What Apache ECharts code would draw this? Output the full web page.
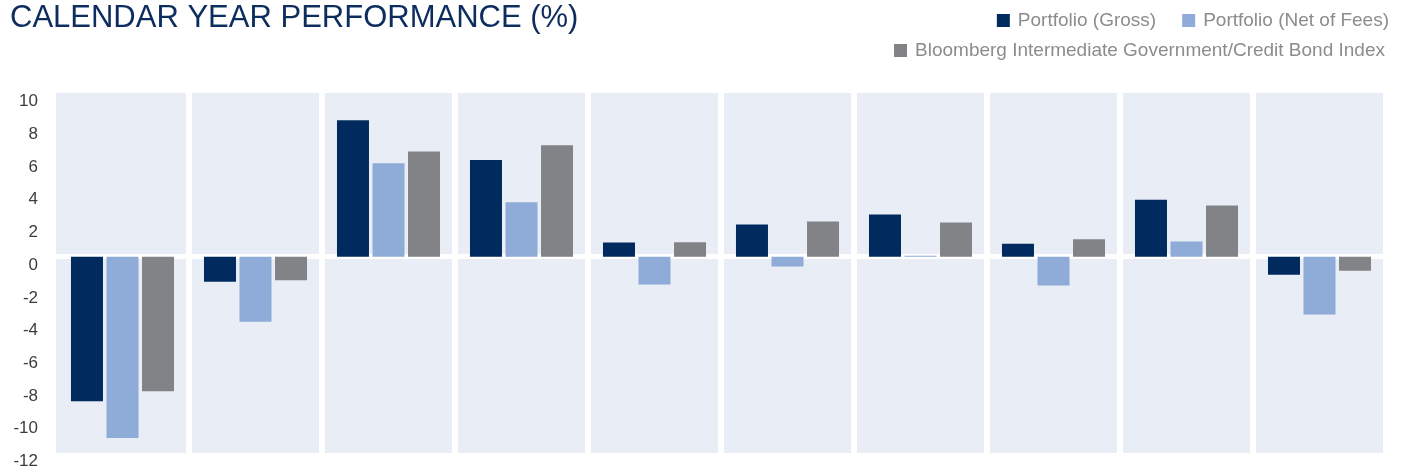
<!DOCTYPE html>
<html>
<head>
<meta charset="utf-8">
<script src="https://cdn.jsdelivr.net/npm/echarts@6/dist/echarts.min.js"></script>
<style>
    html, body {margin: 0; padding: 0; background: #ffffff;}
    #main {width: 1406px; height: 472px;}
</style>
</head>
<body>
<div id="main"></div>
<script>
// calendar years, newest first (axis labels are not shown in the picture)
const years = ['2022', '2021', '2020', '2019', '2018', '2017', '2016', '2015', '2014', '2013'];
const gross = [-8.83, -1.54, 8.34, 5.90, 0.86, 1.96, 2.57, 0.79, 3.48, -1.10];
const net_of_fees = [-11.09, -3.98, 5.71, 3.33, -1.71, -0.61, 0.05, -1.77, 0.92, -3.54];
const bond_index = [-8.23, -1.44, 6.43, 6.80, 0.88, 2.14, 2.08, 1.07, 3.13, -0.86];
const y_min = -12, y_max = 10, y_step = 2;

const font = 'Liberation Sans, Arial, Helvetica, sans-serif';
const colors = {gross: '#012b5e', net: '#8fabd7', index: '#828387', panel: '#e9edf6'};

const my_chart = echarts.init(document.getElementById('main'), null, {renderer: 'canvas'});

const bar = (name, data, color) => ({
    name: name, type: 'bar', data: data,
    barWidth: 32, barGap: '11%',
    itemStyle: {color: color},
    emphasis: {disabled: true}
});

const legend_text = {color: '#8c8c8c', fontSize: 19, fontFamily: font, padding: [0, 0, 0, 3]};

my_chart.setOption({
    animation: false,
    title: {
        text: 'CALENDAR YEAR PERFORMANCE (%)',
        left: 10, top: 3, padding: 0,
        textStyle: {color: '#0d2d5e', fontSize: 31, fontWeight: 'normal', fontFamily: font}
    },
    legend: [
        {
            data: ['Portfolio (Gross)', 'Portfolio (Net of Fees)'],
            right: 17, top: 11, padding: 0, itemGap: 26,
            itemWidth: 13, itemHeight: 13, icon: 'rect',
            textStyle: legend_text
        },
        {
            data: ['Bloomberg Intermediate Government/Credit Bond Index'],
            right: 21, top: 41, padding: 0,
            itemWidth: 13, itemHeight: 13, icon: 'rect',
            textStyle: legend_text
        }
    ],
    grid: {
        left: 56, right: 20, top: 93, bottom: 19,
        show: true, backgroundColor: colors.panel, borderWidth: 0
    },
    xAxis: {
        type: 'category', data: years,
        axisLine: {onZero: true, lineStyle: {color: '#ffffff', width: 5}},
        axisTick: {show: false},
        axisLabel: {show: false},
        splitLine: {
            show: true,
            interval: function (index) { return index > 0; },
            lineStyle: {color: '#ffffff', width: 6}
        }
    },
    yAxis: {
        type: 'value', min: y_min, max: y_max, interval: y_step,
        axisLine: {show: false}, axisTick: {show: false},
        splitLine: {show: false},
        axisLabel: {
            color: '#3c3c3c', fontSize: 17, fontFamily: font, margin: 18,
            verticalAlign: 'top', lineHeight: 17
        }
    },
    series: [
        bar('Portfolio (Gross)', gross, colors.gross),
        bar('Portfolio (Net of Fees)', net_of_fees, colors.net),
        bar('Bloomberg Intermediate Government/Credit Bond Index', bond_index, colors.index)
    ]
});
</script>
</body>
</html>
